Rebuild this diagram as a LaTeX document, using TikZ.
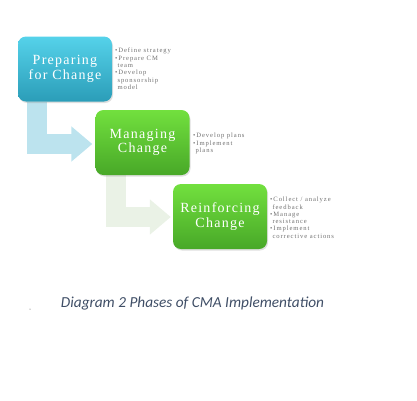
\documentclass[tikz,border=0pt]{standalone}
\usepackage{fontspec}
\usetikzlibrary{arrows.meta,shadows,calc,backgrounds}
\newfontfamily\boxfont[LetterSpace=9]{Liberation Serif}
\newfontfamily\bulfont[LetterSpace=14]{Liberation Serif}
\newfontfamily\capfont{Carlito}
\definecolor{cyanT}{HTML}{55D2EA}
\definecolor{cyanB}{HTML}{2B9DB8}
\definecolor{greenT}{HTML}{72E03E}
\definecolor{greenB}{HTML}{48A828}
\definecolor{arrowA}{HTML}{BCE3EE}
\definecolor{arrowB}{HTML}{EAF2E6}
\definecolor{bultext}{HTML}{707070}
\definecolor{captext}{HTML}{3F4E66}
\tikzset{
  phase/.style={rounded corners=8pt, minimum width=94pt, minimum height=65pt,
    align=center, text=white, font=\boxfont\fontsize{14}{14.5}\selectfont,
    drop shadow={shadow xshift=1pt, shadow yshift=-1.5pt, opacity=0.25}},
  bluephase/.style={phase, top color=cyanT, bottom color=cyanB},
  greenphase/.style={phase, top color=greenT, bottom color=greenB},
  bullets/.style={anchor=north west, align=left, text=bultext, inner sep=0pt,
    font=\bulfont\fontsize{6.6}{7.3}\selectfont},
  flowarrow/.style={line width=20pt, -{Triangle[width=34pt,length=21pt]}},
}
\begin{document}
\begin{tikzpicture}[x=1pt,y=-1pt]
\useasboundingbox (0,0) rectangle (417,400);
% nodes
\node[bluephase] (b1) at (65,69) {Preparing\\for Change};
\node[greenphase] (b2) at (142.5,142.5) {Managing\\Change};
\node[greenphase] (b3) at (220,216.5) {Reinforcing\\Change};
% arrows behind the boxes
\begin{scope}[on background layer]
\draw[flowarrow, arrowA] ([xshift=19pt]b1.south west) |- ([xshift=-3pt,yshift=-1.5pt]b2.west);
\draw[flowarrow, arrowB] ([xshift=21pt]b2.south west) |- ([xshift=-2pt,yshift=-0.5pt]b3.west);
\end{scope}
\node[bullets] (t1) at (115,48) {•Define strategy\\•Prepare CM\\\phantom{•}team\\•Develop\\\phantom{•}sponsorship\\\phantom{•}model};
\node[bullets] (t2) at (193,133) {•Develop plans\\•Implement\\\phantom{•}plans};
\node[bullets] (t3) at (270,197) {•Collect / analyze\\\phantom{•}feedback\\•Manage\\\phantom{•}resistance\\•Implement\\\phantom{•}corrective actions};
\node[font=\capfont\itshape\fontsize{15.3}{17}\selectfont, text=captext] (cap) at (192.5,303) {Diagram 2 Phases of CMA Implementation};
\fill[black!70] (30,309) circle (0.5pt);
\end{tikzpicture}
\end{document}
